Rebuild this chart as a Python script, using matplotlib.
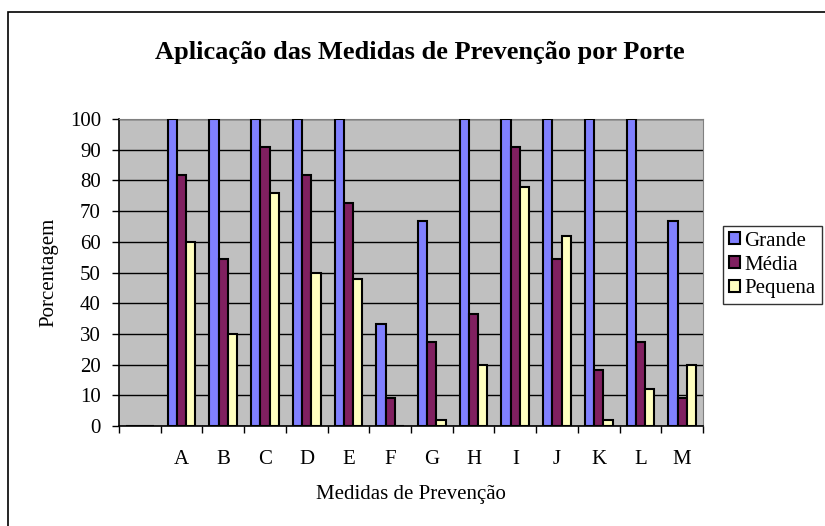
import matplotlib.pyplot as plt
import matplotlib.patches as patches
import numpy as np

plt.rcParams['font.family'] = ['Liberation Serif', 'DejaVu Serif']

# data (first category slot is empty)
categorias = ['', 'A', 'B', 'C', 'D', 'E', 'F', 'G', 'H', 'I', 'J', 'K', 'L', 'M']
grande = [0, 100, 100, 100, 100, 100, 33.3, 66.7, 100, 100, 100, 100, 100, 66.7]
media = [0, 81.8, 54.5, 90.9, 81.8, 72.7, 9.1, 27.3, 36.4, 90.9, 54.5, 18.2, 27.3, 9.1]
pequena = [0, 60, 30, 76, 50, 48, 0, 2, 20, 78, 62, 2, 12, 20]
series = ['Grande', 'Média', 'Pequena']
cores = ['#8080FF', '#802060', '#FFFFC0']

W, H = 825, 526
fig = plt.figure(figsize=(W / 100, H / 100), dpi=100)

# outer chart border (right and bottom edges fall outside the picture)
fig.patches.append(patches.Rectangle((8 / W, -0.1), 1, 1.1 - 12 / H, transform=fig.transFigure,
                                     fill=False, edgecolor='black', lw=1.2))

ax = fig.add_axes([119 / W, 1 - 426 / H, (703 - 119) / W, (426 - 119) / H])
ax.set_facecolor('#C0C0C0')

x = np.arange(len(categorias))
bw = 1 / 4.5
for i, (vals, cor, nome) in enumerate(zip([grande, media, pequena], cores, series)):
    ax.bar(x + (i - 1) * bw, vals, bw, color=cor, edgecolor='black', lw=1.5,
           label=nome, zorder=3)

ax.set_xlim(-0.5, len(categorias) - 0.5)
ax.set_ylim(0, 100)
ax.set_yticks(np.arange(0, 101, 10))
ax.yaxis.grid(True, color='black', lw=1, zorder=1)
ax.set_axisbelow(True)

ax.set_xticks(x)
ax.set_xticklabels(categorias)
ax.set_xticks(np.arange(-0.5, len(categorias)), minor=True)
ax.tick_params(axis='x', which='major', length=0, pad=17, labelsize=15)
ax.tick_params(axis='x', which='minor', length=5, width=1, direction='out')
ax.tick_params(axis='y', length=5, width=1, direction='out', pad=8, labelsize=15)

for s in ['top', 'right']:
    ax.spines[s].set_color('#808080')
for s in ['left', 'bottom']:
    ax.spines[s].set_color('black')
    ax.spines[s].set_linewidth(1.2)

ax.set_ylabel('Porcentagem', fontsize=15)
ax.yaxis.set_label_coords((58 - 119) / 584, 0.5)
ax.set_xlabel('Medidas de Prevenção', fontsize=15, va='center')
ax.xaxis.set_label_coords(0.5, (426 - 495) / 307)

fig.text(420 / W, 1 - 52 / H, 'Aplicação das Medidas de Prevenção por Porte',
         ha='center', va='center', fontsize=19, fontweight='bold')

leg = fig.legend(loc='center left', bbox_to_anchor=(723 / W, 1 - 265 / H),
                 fontsize=15, frameon=True, fancybox=False, edgecolor='black',
                 handlelength=0.55, handleheight=0.55, handletextpad=0.2,
                 labelspacing=0.24, borderpad=0.28, borderaxespad=0)
leg.get_frame().set_linewidth(1)

fig.savefig('out.png', dpi=100)
